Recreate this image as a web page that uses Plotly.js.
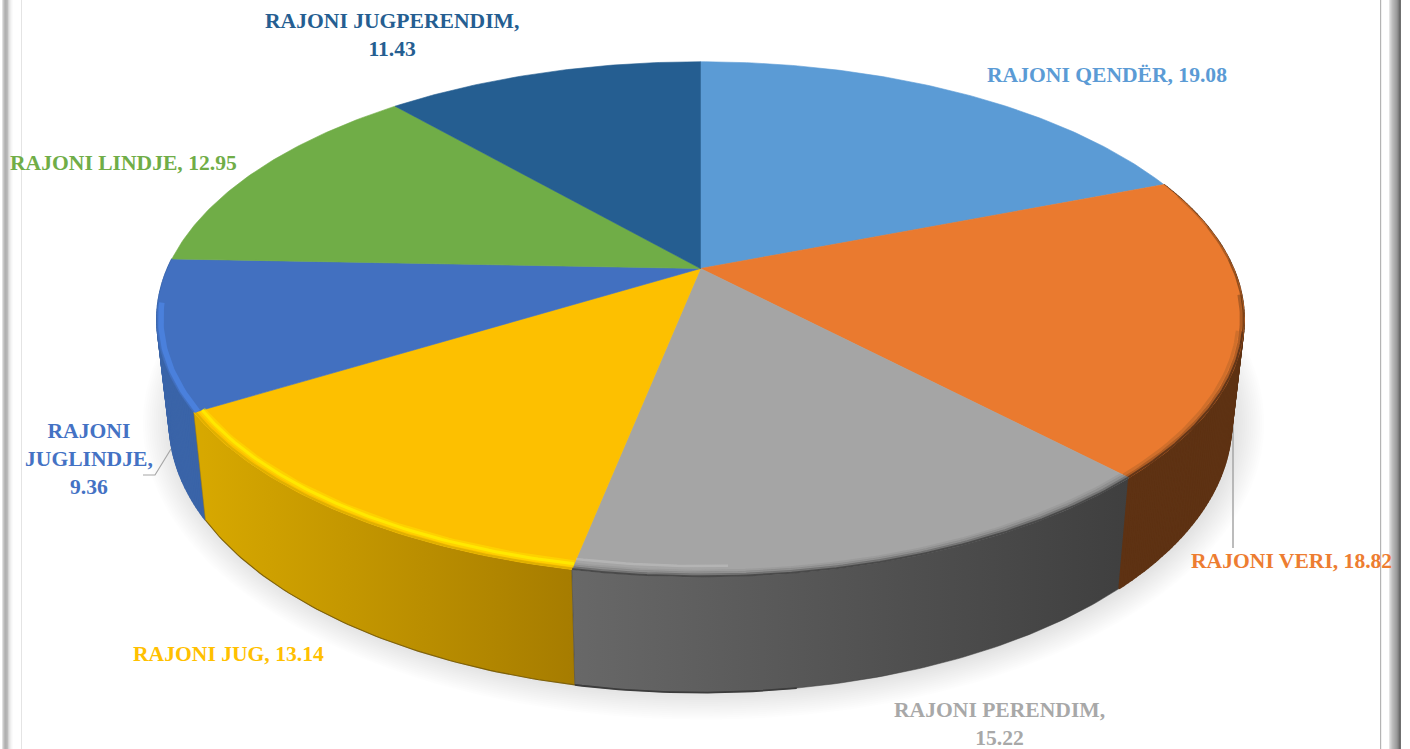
<!DOCTYPE html>
<html>
<head>
<meta charset="utf-8">
<script src="https://cdn.plot.ly/plotly-3.0.1.min.js"></script>
<style>html,body{margin:0;padding:0;background:#fff;overflow:hidden}#chart{width:1410px;height:749px}</style>
</head>
<body>
<div id="chart"></div>
<script>
// ---- data ----
const regions = ["RAJONI QENDËR","RAJONI VERI","RAJONI PERENDIM","RAJONI JUG","RAJONI JUGLINDJE","RAJONI LINDJE","RAJONI JUGPERENDIM"];
const values  = [19.08,18.82,15.22,13.14,9.36,12.95,11.43];
const labelLines = [null,null,["RAJONI PERENDIM,","15.22"],null,["RAJONI","JUGLINDJE,","9.36"],null,["RAJONI JUGPERENDIM,","11.43"]];
// ---- styles ----
const topColors = ["#5b9bd5","#ea7a2f","#a5a5a5","#fdc000","#4270c0","#70ad47","#255e91"];
const textColors = ["#5b9bd5","#ed7d31","#a8a8a8","#ffc000","#4472c4","#70ad47","#255e91"];
const wallScales = {
  1:[[0,"#5e3213"],[1,"#5e3213"]],
  2:[[0,"#686868"],[1,"#3f3f3f"]],
  3:[[0,"#d8a900"],[1,"#a67c00"]],
  4:[[0,"#3a64a8"],[1,"#3a64a8"]]
};
const labelPos = [[1107,75],[1291,561],[999,724],[228,654],[89,459],[123,163],[392,35]];
const labelFont = 'Liberation Serif';
const labelSize = 21.6;
// projection geometry of the tilted disc
const C = {cx:700.5, cy:268.5, A:533, B:247.5, k:0.197, drop:{a:1.05,b:87}, s:0.977};

function project(deg, r){
  const t = deg*Math.PI/180, u = r*Math.sin(t), v = r*Math.cos(t), w = 1 + C.k*v;
  return [C.cx + C.A*u/w, C.cy - C.B*v/w];
}
function lower(p){ return [C.cx + (p[0]-C.cx)*C.s, C.drop.a*p[1] + C.drop.b]; }
function arc(a,b,r){ const out=[], n=Math.max(2,Math.ceil(Math.abs(b-a)*1.5)); for(let i=0;i<=n;i++) out.push(project(a+(b-a)*i/n,r)); return out; }

const total = values.reduce((s,v)=>s+v,0);
let acc = 0;
const bounds = values.map(v=>{ const a=acc/total*360; acc+=v; return [a,acc/total*360]; });

const traces = [];
function poly(pts,extra){
  const xs=pts.map(p=>p[0]), ys=pts.map(p=>p[1]);
  xs.push(xs[0]); ys.push(ys[0]);
  traces.push(Object.assign({type:'scatter',mode:'lines',x:xs,y:ys,fill:'toself',showlegend:false,hoverinfo:'skip',line:{width:0}},extra));
}
function stroke(pts,color,width){
  traces.push({type:'scatter',mode:'lines',x:pts.map(p=>p[0]),y:pts.map(p=>p[1]),showlegend:false,hoverinfo:'skip',line:{color:color,width:width,shape:'linear'}});
}
// a wall of one flat colour built of many small quads, so the silhouette between the two rims is filled
function quadWall(i,color){
  const top = arc(bounds[i][0],bounds[i][1],1), xs=[], ys=[];
  for(let j=0;j<top.length-1;j++){
    const q=[top[j],top[j+1],lower(top[j+1]),lower(top[j]),top[j]];
    q.forEach(p=>{xs.push(p[0]);ys.push(p[1]);});
    xs.push(null);ys.push(null);
  }
  traces.push({type:'scatter',mode:'lines',x:xs,y:ys,fill:'toself',fillcolor:color,line:{width:1.6,color:color},showlegend:false,
    hoverinfo:'text',text:regions[i]+', '+values[i].toFixed(2),hoveron:'fills'});
}

// soft shadow under the disc
const outline = arc(0,360,1).map(lower);
const shadowCentre = [700,410];
for(let d=28;d>=1;d-=2){
  const pts = outline.map(p=>[shadowCentre[0]+(p[0]-shadowCentre[0])*(1+d/500)+3, shadowCentre[1]+(p[1]-shadowCentre[1])*(1+d/290)]);
  poly(pts,{fillcolor:'rgba(0,0,0,0.0095)'});
}

// leader lines sit under the disc walls
stroke([[1233,425],[1233,548]],'#a6a6a6',1.5);
stroke([[171,449],[155,475],[143,475]],'#a6a6a6',1.2);

// side walls of the slices that face the viewer
quadWall(4,wallScales[4][0][1]);
[3,2].forEach(i=>{
  const top = arc(bounds[i][0],bounds[i][1],1);
  const bot = top.map(lower).reverse();
  const c = wallScales[i];
  poly(top.concat(bot),{fillcolor:c[0][1],fillgradient:{type:'horizontal',colorscale:c},line:{width:0.5,color:c[1][1]},
    hoverinfo:'text',text:regions[i]+', '+values[i].toFixed(2),hoveron:'fills'});
});
quadWall(1,wallScales[1][0][1]);
// dark foot of the walls
stroke(arc(bounds[3][0],bounds[3][1],1).map(lower),'rgba(110,82,0,0.8)',1.1);
stroke(arc(bounds[2][0]+35,bounds[2][1],1).map(lower),'#3c3c3c',1.8);

// top faces
values.forEach((v,i)=>{
  const pts=[[C.cx,C.cy]].concat(arc(bounds[i][0],bounds[i][1],1));
  poly(pts,{fillcolor:topColors[i],line:{width:0.6,color:topColors[i]},hoverinfo:'text',text:regions[i]+', '+v.toFixed(2),hoveron:'fills',name:regions[i]});
});

// bevel along the front rim
const b=bounds;
const bev2=b[2][1]-b[2][0];
// orange: fades in from the back of the slice
[[72,80,0.25],[80,88,0.45],[88,96,0.65],[96,104,0.85]].forEach(s=>stroke(arc(s[0],s[1],0.9985),'rgba(100,55,20,'+s[2]+')',1.6));
stroke(arc(104,b[1][1],0.9985),'#643618',2.2);
stroke(arc(96,b[1][1],0.9945),'rgba(105,58,25,0.45)',2.5);
stroke(arc(104,b[1][1],0.989),'rgba(150,85,35,0.3)',3);
// grey
stroke(arc(b[2][0],b[2][1],0.999),'#4a4a4a',2);
stroke(arc(b[2][0],b[2][1],0.995),'rgba(80,80,80,0.55)',2.5);
stroke(arc(b[2][0],b[2][1],0.990),'rgba(90,90,90,0.28)',2.5);
stroke(arc(b[2][0],b[2][1],0.985),'rgba(110,110,110,0.15)',2.5);
stroke(arc(b[2][1]-bev2*0.25,b[2][1],0.972),'rgba(200,200,200,0.45)',2.5);
// yellow
stroke(arc(b[3][0],b[3][1],0.9975),'#e0b000',2.2);
stroke(arc(b[3][0],b[3][1],0.985),'rgba(255,225,0,0.5)',7);
stroke(arc(b[3][0],b[3][1],0.985),'#ffe800',3);
// blue
stroke(arc(b[4][0],b[4][1]-10,0.993),'#4a80dc',5.5);

// frame
const shapes=[];
function band(x0,x1,y0,y1,color){ shapes.push({type:'rect',xref:'x',yref:'y',x0:x0,x1:x1,y0:y0,y1:y1,fillcolor:color,line:{width:0},layer:'above'}); }
const leftBand=['#e0e0e0','#c8c8c8','#b8b8b8','#b0b0b0','#b4b4b4','#bcbcbc','#d4d4d4','#e4e4e4','#eeeeee','#f6f6f6','#fbfbfb'];
leftBand.forEach((c,i)=>band(2+i,3+i,0,749,c));
band(21,22,0,749,'#e4e4e4');
band(1380,1381.2,0,749,'#b4b4b4');
const rightBand=['#e4e4e4','#d4d4d4','#c8c8c8','#bcbcbc','#b4b4b4','#acacac','#a4a4a4','#9c9c9c','#909090','#808080','#6c6c6c','#707070'];
rightBand.forEach((c,i)=>band(1389+i,1390+i,0,749,c));

// labels
const annotations = regions.map((r,i)=>({
  xref:'x',yref:'y',x:labelPos[i][0],y:labelPos[i][1],xanchor:'center',yanchor:'middle',showarrow:false,align:'center',
  text: labelLines[i] ? labelLines[i].join('<br>') : r+', '+values[i].toFixed(2),
  font:{family:labelFont,size:labelSize,color:textColors[i],weight:700}
}));

Plotly.newPlot('chart',traces,{
  width:1410,height:749,margin:{l:0,r:0,t:0,b:0},paper_bgcolor:'#fff',plot_bgcolor:'#fff',
  xaxis:{range:[0,1410],visible:false,fixedrange:true},
  yaxis:{range:[749,0],visible:false,fixedrange:true},
  showlegend:false,shapes:shapes,annotations:annotations,hovermode:'closest',
  font:{family:labelFont}
},{displayModeBar:false,responsive:false});
</script>
</body>
</html>
